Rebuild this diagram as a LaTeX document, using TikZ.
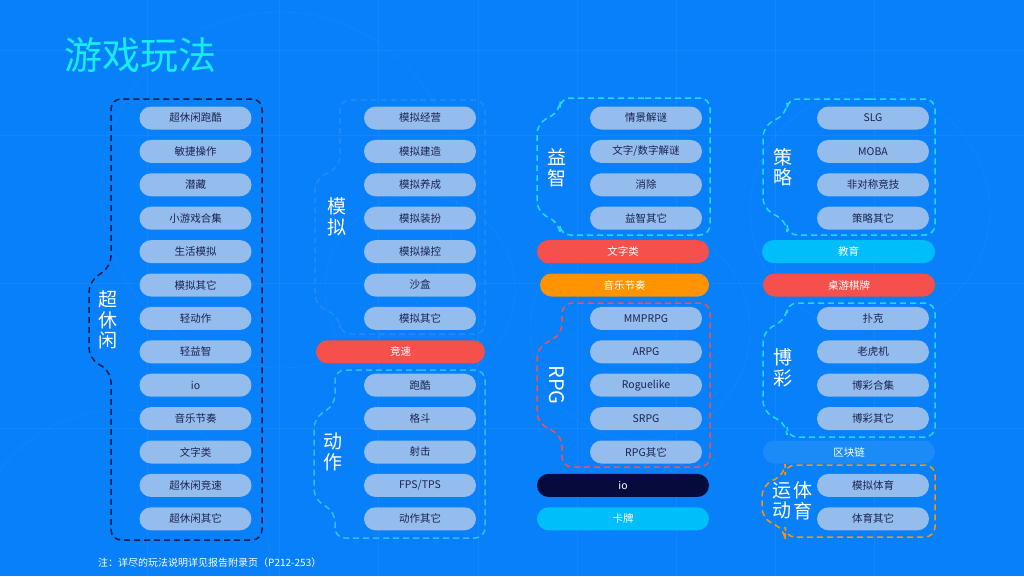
\documentclass[tikz,border=0pt]{standalone}
\usepackage{fontspec}
\setmainfont{Noto Sans CJK SC}
\usepackage{xcolor}
\usepackage{tikz}
\usetikzlibrary{positioning}
\definecolor{gBg}{HTML}{0880FA}
\definecolor{gPill}{HTML}{94BCEC}
\definecolor{gInk}{HTML}{1A2352}
\definecolor{gRed}{HTML}{F5504B}
\definecolor{gOrange}{HTML}{FF9300}
\definecolor{gNavy}{HTML}{060A3C}
\definecolor{gSky}{HTML}{00BEFA}
\definecolor{gCyan}{HTML}{22DCFF}
\definecolor{gAct}{HTML}{35BCF8}
\definecolor{gDark}{HTML}{0D1A4A}
\definecolor{gTitle}{HTML}{18ECF0}
\definecolor{gFaint}{HTML}{228BF8}
\definecolor{gChain}{HTML}{1B8BF8}

\begin{document}
\begin{tikzpicture}[x=1pt,y=-1pt,
  pill/.style={fill=gPill,rounded corners=11.5pt,minimum width=112pt,minimum height=23pt,
               inner sep=0pt,text=gInk,font=\fontsize{10.5}{12}\selectfont},
  bar/.style={pill,minimum width=172pt,text=white},
  grp/.style={line width=1.5pt,dash pattern=on 6pt off 4pt,rounded corners=10pt},
  lbl/.style={text=white,font=\fontsize{19}{20.5}\selectfont,align=center,inner sep=0pt},
  deco/.style={draw=white,opacity=0.05,line width=0.6pt}]

\fill[gBg] (0,0) rectangle (1024,576);
\useasboundingbox (0,0) rectangle (1024,576);

% faint background grid
\foreach \gx in {147,279,378,478,577,676,775,874}
  \draw[deco] (\gx,0) -- (\gx,576);
\foreach \gy in {50,135,283,428}
  \draw[deco] (0,\gy) -- (1024,\gy);
\draw[deco] (279,190) circle (178);
\draw[deco] (420,290) circle (95);
\draw[deco] (640,330) circle (110);
\draw[deco] (870,210) circle (120);
\draw[deco] (120,560) circle (150);

\node[text=gTitle,anchor=west,inner sep=0pt,font=\fontsize{38}{42}\selectfont] (title) at (64,55) {游戏玩法};

% column 1
\draw[grp,gDark] (186,99) -- (262,99) -- (262,540) -- (111,540) -- (111,372) -- (89,358)
  -- (89,282) -- (111,266) -- (111,99) -- cycle;
\foreach \t [count=\i] in {超休闲跑酷,敏捷操作,潜藏,小游戏合集,生活模拟,模拟其它,轻动作,轻益智,io,音乐节奏,文字类,超休闲竞速,超休闲其它}
  \node[pill] (casual\i) at (195.5,{118+33.4*(\i-1)}) {\t};
\node[lbl] (lblCasual) at (108,320) {超\\休\\闲};

% column 2
\draw[grp,gFaint] (410,100) -- (485,100) -- (485,334) -- (340,334) -- (340,318) -- (315,304)
  -- (315,180) -- (340,166) -- (340,100) -- cycle;
\foreach \t [count=\i] in {模拟经营,模拟建造,模拟养成,模拟装扮,模拟操控,沙盒,模拟其它}
  \node[pill] (sim\i) at (420,{118+33.4*(\i-1)}) {\t};
\node[lbl] (lblSim) at (337,217) {模\\拟};
\node[bar,fill=gRed,minimum width=169pt] (race) at (400.5,351.8) {竞速};
\draw[grp,gAct] (410,370) -- (485,370) -- (485,538) -- (335,538) -- (335,512) -- (314,499)
  -- (314,418) -- (335,405) -- (335,370) -- cycle;
\foreach \t [count=\i] in {跑酷,格斗,射击,FPS/TPS,动作其它}
  \node[pill] (act\i) at (420,{385.2+33.4*(\i-1)}) {\t};
\node[lbl] (lblAct) at (333,452) {动\\作};

% column 3
\draw[grp,gCyan] (635,98) -- (710,98) -- (710,235) -- (560,235) -- (560,224) -- (537,211)
  -- (537,124) -- (560,111) -- (560,98) -- cycle;
\foreach \t [count=\i] in {情景解谜,文字/数字解谜,消除,益智其它}
  \node[pill] (puz\i) at (646,{118+33.4*(\i-1)}) {\t};
\node[lbl] (lblPuz) at (557,168) {益\\智};
\node[bar,fill=gRed] (word) at (623,251.6) {文字类};
\node[bar,fill=gOrange,minimum width=169pt] (music) at (624.5,285) {音乐节奏};
\draw[grp,gRed] (635,303) -- (710,303) -- (710,467) -- (562,467) -- (562,436) -- (537,422)
  -- (537,348) -- (562,334) -- (562,303) -- cycle;
\foreach \t [count=\i] in {MMPRPG,ARPG,Roguelike,SRPG,RPG其它}
  \node[pill] (rpg\i) at (646,{318.4+33.4*(\i-1)}) {\t};
\node[lbl,rotate=-90,font=\fontsize{20}{22}\selectfont] (lblRpg) at (557,385) {RPG};
\node[bar,fill=gNavy] (io) at (623,485.4) {io};
\node[bar,fill=gSky] (card) at (623,518.8) {卡牌};

% column 4
\draw[grp,gCyan] (860,99) -- (935,99) -- (935,235) -- (787,235) -- (787,222) -- (763,208)
  -- (763,127) -- (787,113) -- (787,99) -- cycle;
\foreach \t [count=\i] in {SLG,MOBA,非对称竞技,策略其它}
  \node[pill] (stg\i) at (873,{118+33.4*(\i-1)}) {\t};
\node[lbl] (lblStg) at (783,167) {策\\略};
\node[bar,fill=gSky,minimum width=173pt] (edu) at (848.5,251.6) {教育};
\node[bar,fill=gRed] (board) at (849,285) {桌游棋牌};
\draw[grp,gCyan] (860,303) -- (935,303) -- (935,437) -- (787,437) -- (787,425) -- (763,411)
  -- (763,332) -- (787,318) -- (787,303) -- cycle;
\foreach \t [count=\i] in {扑克,老虎机,博彩合集,博彩其它}
  \node[pill] (bet\i) at (873,{318.4+33.4*(\i-1)}) {\t};
\node[lbl] (lblBet) at (783,368) {博\\彩};
\node[bar,fill=gChain] (chain) at (849,452) {区块链};
\draw[grp,gOrange] (860,465) -- (935,465) -- (935,537) -- (785,537) -- (785,530) -- (762,518)
  -- (762,486) -- (785,474) -- (785,465) -- cycle;
\foreach \t [count=\i] in {模拟体育,体育其它}
  \node[pill] (spt\i) at (873,{485.4+33.4*(\i-1)}) {\t};
\node[lbl] (lblSptA) at (782,501) {运\\动};
\node[lbl] (lblSptB) at (803,501) {体\\育};

\node[text=white,anchor=west,inner sep=0pt,font=\fontsize{10}{12}\selectfont] (note) at (98,563)
  {注：详尽的玩法说明详见报告附录页（P212-253）};
\end{tikzpicture}
\end{document}
